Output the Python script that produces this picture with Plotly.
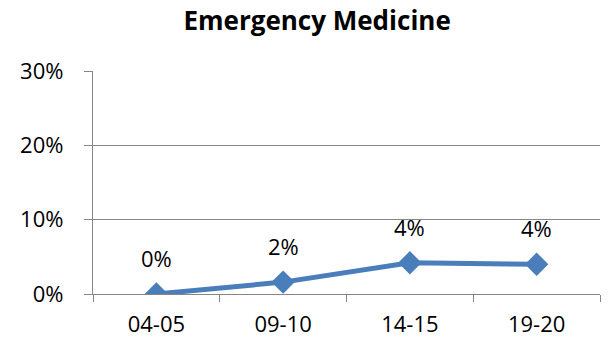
import plotly.graph_objects as go

# data
periods = ["04-05", "09-10", "14-15", "19-20"]
share = [0.0, 0.016, 0.042, 0.040]
labels = ["0%", "2%", "4%", "4%"]
y_ticks = [0, 0.1, 0.2, 0.3]

font_family = "Open Sans, Noto Sans, Liberation Sans, sans-serif"
grey = "#868686"
blue = "#4A7EBB"

fig = go.Figure()
fig.add_trace(go.Scatter(
    x=periods,
    y=share,
    mode="lines+markers",
    line=dict(color=blue, width=5),
    marker=dict(symbol="diamond", size=18, color=blue),
    hoverinfo="skip",
))

# data labels sit well above each point, like the Excel original
for p, v, t in zip(periods, share, labels):
    fig.add_annotation(x=p, y=v, text=t, showarrow=False, yshift=36,
                       font=dict(size=22, color="#000000", family=font_family))

fig.update_layout(
    width=611, height=342,
    margin=dict(l=93, r=11, t=71, b=48, autoexpand=False),
    paper_bgcolor="white", plot_bgcolor="white",
    showlegend=False,
    font=dict(family=font_family, size=22, color="#000000"),
    title=dict(text="<b>Emergency Medicine</b>", x=0.519, xanchor="center",
               y=0.94, yanchor="middle", font=dict(size=26)),
)
fig.update_xaxes(
    type="category", tickson="boundaries", automargin=False,
    showline=True, linecolor=grey, linewidth=1.3,
    ticks="outside", ticklen=7, tickcolor=grey,
    ticklabelstandoff=10,
    showgrid=False, zeroline=False,
    range=[-0.5, 3.5],
)
fig.update_yaxes(
    range=[0, 0.3], tickvals=y_ticks, tickformat=".0%", automargin=False,
    showline=True, linecolor=grey, linewidth=1.3,
    ticks="outside", ticklen=8, tickcolor=grey,
    ticklabelstandoff=16,
    showgrid=True, gridcolor=grey, gridwidth=1.3,
    zeroline=False,
)

# drop the browser's default body margin so the chart sits flush
fig.write_html("out.html", config={"displayModeBar": False},
               post_script="document.body.style.margin='0';")
